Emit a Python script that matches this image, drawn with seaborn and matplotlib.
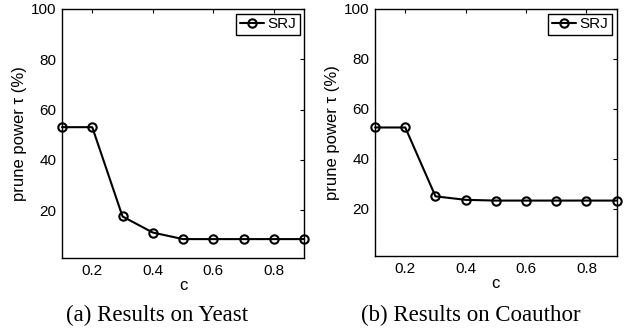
import matplotlib
matplotlib.use("Agg")
import matplotlib.pyplot as plt
import seaborn as sns

# Data
c_values = [0.1, 0.2, 0.3, 0.4, 0.5, 0.6, 0.7, 0.8, 0.9]
yeast_prune = [53.0, 53.0, 17.5, 11.1, 8.5, 8.5, 8.5, 8.5, 8.5]
coauthor_prune = [52.5, 52.5, 24.9, 23.5, 23.2, 23.2, 23.2, 23.2, 23.2]
y_ticks = [20, 40, 60, 80, 100]
x_ticks = [0.2, 0.4, 0.6, 0.8]
captions = ["(a) Results on Yeast", "(b) Results on Coauthor"]

sns.set_style("white")
plt.rcParams['font.family'] = ['Liberation Sans', 'DejaVu Sans']
plt.rcParams['text.color'] = 'black'
plt.rcParams['axes.labelcolor'] = 'black'

fig = plt.figure(figsize=(6.39, 3.32), dpi=100)
ax_rects = [[0.097, 0.223, 0.379, 0.750], [0.587, 0.229, 0.378, 0.744]]
caption_x = [157 / 639, 471 / 639]  # figure coords


def draw_panel(ax, values):
    sns.lineplot(x=c_values, y=values, ax=ax, color='black', linewidth=1.5,
                 marker='o', markersize=6, markerfacecolor='none',
                 markeredgecolor='black', markeredgewidth=1.5, label='SRJ',
                 clip_on=False, zorder=3)
    ax.set_xlim(0.1, 0.9)
    ax.set_ylim(1, 100)
    ax.set_xticks(x_ticks)
    ax.set_yticks(y_ticks)
    ax.set_xticklabels([f"{v:.1f}" for v in x_ticks])
    ax.tick_params(direction='in', length=3, width=0.8, top=True, right=True,
                   labelsize=11, colors='black', pad=4)
    for spine in ax.spines.values():
        spine.set_visible(True)
        spine.set_color('black')
        spine.set_linewidth(1.0)
    ax.set_xlabel('c', fontsize=12, labelpad=0)
    ax.set_ylabel('prune power τ (%)', fontsize=12, labelpad=3)
    leg = ax.legend(loc='upper right', fontsize=11, fancybox=False,
                    edgecolor='black', framealpha=1, handlelength=1.6,
                    handletextpad=0.2, borderpad=0.25, borderaxespad=0.3)
    leg.get_frame().set_linewidth(1.0)


for rect, values in zip(ax_rects, [yeast_prune, coauthor_prune]):
    ax = fig.add_axes(rect)
    draw_panel(ax, values)

# Sub-figure captions
for cx, caption in zip(caption_x, captions):
    fig.text(cx, 0.051, caption, ha='center', va='center', fontsize=16.5,
             family='Liberation Serif', color='black')

fig.savefig("out.png", dpi=100)
